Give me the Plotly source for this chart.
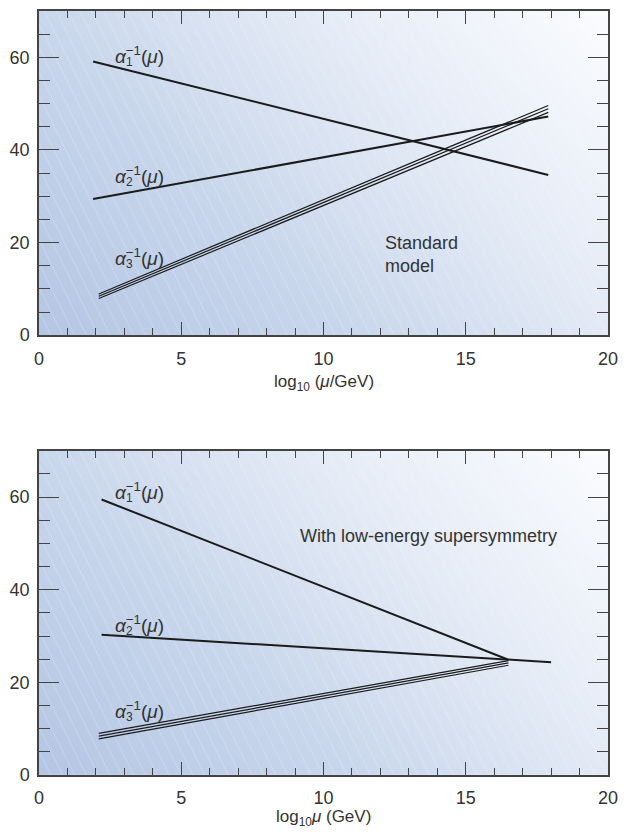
import numpy as np
import plotly.graph_objects as go

# ---------------- data ----------------
x_ticks = [0, 5, 10, 15, 20]
y_ticks = [0, 20, 40, 60]

# Standard model panel
sm_x12 = [1.9, 17.9]
sm_a1 = [59.1, 34.6]
sm_a2 = [29.4, 47.2]
sm_x3 = [2.1, 17.9]
sm_a3_hi = [8.9, 49.6]
sm_a3_mid = [8.4, 48.9]
sm_a3_lo = [7.9, 48.1]

# Supersymmetry panel
su_x1 = [2.2, 16.5]
su_a1 = [59.5, 24.9]
su_x2 = [2.2, 18.0]
su_a2 = [30.3, 24.35]
su_x3 = [2.1, 16.5]
su_a3_hi = [9.0, 24.7]
su_a3_mid = [8.4, 24.2]
su_a3_lo = [7.8, 23.7]

# ---------------- figure ----------------
fig = go.Figure()

X_MAX, Y_MAX = 20, 70
PW, PH = 577, 325  # plot area px

# background gradient (decorative)
gx = np.linspace(0, X_MAX, 41)
gy = np.linspace(0, Y_MAX, 41)
U, V = np.meshgrid(gx / X_MAX, gy / Y_MAX)
gz = (U * PW + V * PH) / (PW + PH)
bg_scale = [[0.0, "#b4c6e3"], [0.36, "#c9d7ec"], [0.5, "#d6e0f0"],
            [0.66, "#e4ebf6"], [1.0, "#fbfcfe"]]

# hatching (decorative)
shift = 0.5 * PH / PW * X_MAX  # horizontal data shift over full height (dy/dx = 2 on screen)
hx, hy = [], []
for x0 in np.arange(-shift, X_MAX + 0.4, 12 / PW * X_MAX):
    hx += [x0, x0 + shift, None]
    hy += [Y_MAX, 0, None]

LINE = "#1b1b1b"
TXT = "#333333"

for xa, ya in (("x", "y"), ("x2", "y2")):
    fig.add_trace(go.Heatmap(x=gx, y=gy, z=gz, colorscale=bg_scale, showscale=False,
                             zsmooth="best", hoverinfo="skip", xaxis=xa, yaxis=ya))
    fig.add_trace(go.Scatter(x=hx, y=hy, mode="lines", hoverinfo="skip",
                             line=dict(color="rgba(255,255,255,0.3)", width=0.7),
                             showlegend=False, xaxis=xa, yaxis=ya))

def add_line(x, y, xa, ya, w):
    fig.add_trace(go.Scatter(x=x, y=y, mode="lines", line=dict(color=LINE, width=w),
                             showlegend=False, hoverinfo="skip", xaxis=xa, yaxis=ya))

add_line(sm_x12, sm_a1, "x", "y", 2)
add_line(sm_x12, sm_a2, "x", "y", 2)
for s in (sm_a3_hi, sm_a3_mid, sm_a3_lo):
    add_line(sm_x3, s, "x", "y", 1.2)

add_line(su_x1, su_a1, "x2", "y2", 2)
add_line(su_x2, su_a2, "x2", "y2", 2)
for s in (su_a3_hi, su_a3_mid, su_a3_lo):
    add_line(su_x3, s, "x2", "y2", 1.2)

FONT = "Liberation Sans, Arial, sans-serif"
ann = []

def alpha_label(idx, x, y, xr, yr):
    ann.append(dict(x=x, y=y, xref=xr, yref=yr, xanchor="left", yanchor="middle",
                    showarrow=False,
                    text="<i>α</i><sup>−1</sup>(<i>μ</i>)",
                    font=dict(family=FONT, size=19, color=TXT)))
    ann.append(dict(x=x, y=y, xref=xr, yref=yr, xanchor="left", yanchor="middle",
                    showarrow=False, xshift=11, yshift=-7,
                    text=str(idx), font=dict(family=FONT, size=12, color=TXT)))

alpha_label(1, 2.6, 60.6, "x", "y")
alpha_label(2, 2.6, 34.6, "x", "y")
alpha_label(3, 2.6, 16.9, "x", "y")
alpha_label(1, 2.6, 61.3, "x2", "y2")
alpha_label(2, 2.6, 32.5, "x2", "y2")
alpha_label(3, 2.6, 14.0, "x2", "y2")

ann.append(dict(x=12.1, y=17.35, xref="x", yref="y", xanchor="left", yanchor="middle",
                showarrow=False, align="left", text="Standard<br>model",
                font=dict(family=FONT, size=18, color=TXT)))
ann.append(dict(x=9.1, y=51.7, xref="x2", yref="y2", xanchor="left", yanchor="middle",
                showarrow=False, text="With low-energy supersymmetry",
                font=dict(family=FONT, size=18, color=TXT)))

ann.append(dict(x=0.5, y=0.513, xref="paper", yref="paper", xanchor="center",
                yanchor="middle", showarrow=False,
                text="log<sub>10</sub> (<i>μ</i>/GeV)",
                font=dict(family=FONT, size=17, color=TXT)))
ann.append(dict(x=0.5, y=-0.056, xref="paper", yref="paper", xanchor="center",
                yanchor="middle", showarrow=False,
                text="log<sub>10</sub><i>μ</i> (GeV)",
                font=dict(family=FONT, size=17, color=TXT)))

AX = "#444444"
xcommon = dict(range=[0, X_MAX], tickvals=x_ticks, ticks="inside", ticklen=13,
               tickwidth=1.4, tickcolor=AX, showline=True, linecolor=AX, linewidth=1.5,
               mirror="ticks", showgrid=False, zeroline=False, ticklabelstandoff=6,
               tickfont=dict(family=FONT, size=18, color=TXT),
               minor=dict(dtick=1, ticks="inside", ticklen=7, tickwidth=1.2,
                          tickcolor=AX, showgrid=False))
ycommon = dict(range=[0, Y_MAX], tickvals=y_ticks, ticks="inside", ticklen=20,
               tickwidth=1.4, tickcolor=AX, showline=True, linecolor=AX, linewidth=1.5,
               mirror="ticks", showgrid=False, zeroline=False, ticklabelstandoff=4,
               tickfont=dict(family=FONT, size=18, color=TXT),
               minor=dict(dtick=5, ticks="inside", ticklen=11, tickwidth=1.2,
                          tickcolor=AX, showgrid=False))

top_dom = [1 - PH / 766, 1]
bot_dom = [0, PH / 766]

fig.update_layout(
    width=627, height=835,
    margin=dict(l=39, r=11, t=9, b=60),
    paper_bgcolor="white", plot_bgcolor="white",
    showlegend=False,
    xaxis=dict(domain=[0, 1], anchor="y", **xcommon),
    yaxis=dict(domain=top_dom, anchor="x", **ycommon),
    xaxis2=dict(domain=[0, 1], anchor="y2", **xcommon),
    yaxis2=dict(domain=bot_dom, anchor="x2", **ycommon),
    annotations=ann,
)

fig.write_html("out.html")
